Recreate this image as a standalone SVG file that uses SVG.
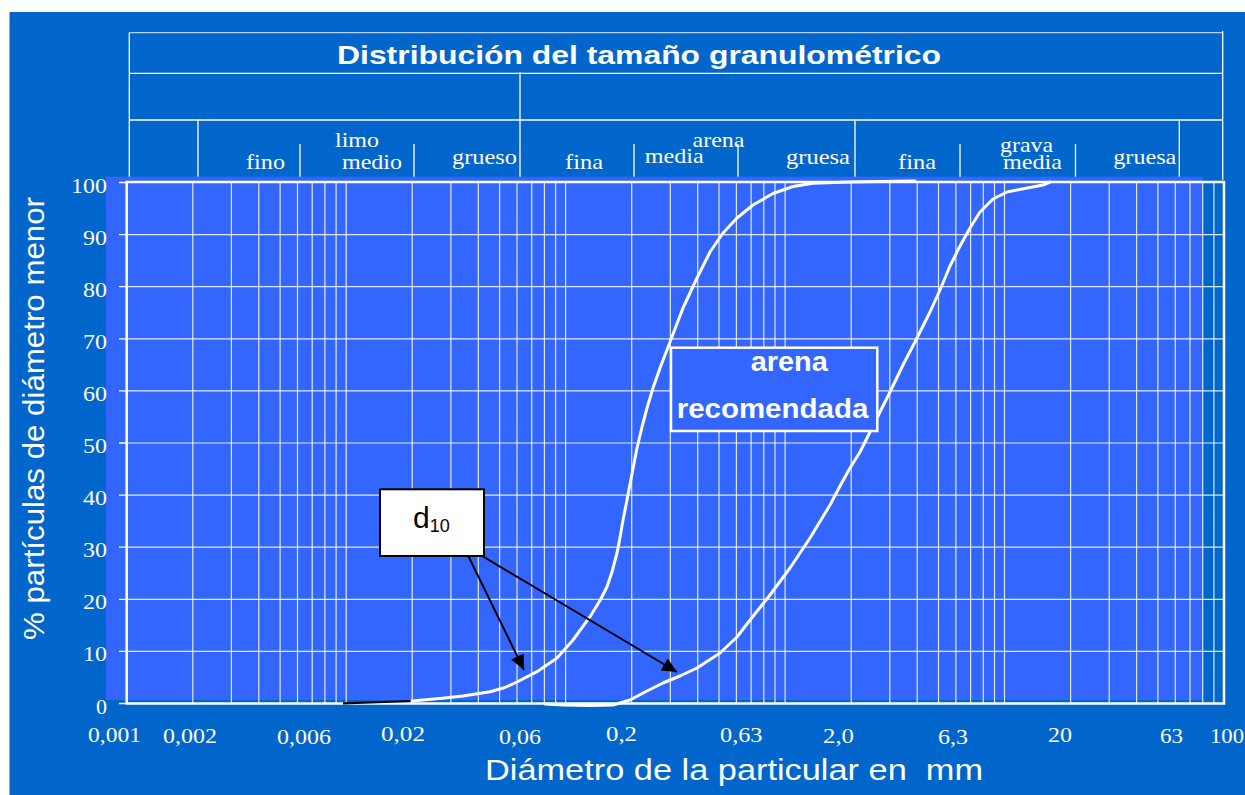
<svg xmlns="http://www.w3.org/2000/svg" width="1245" height="795" viewBox="0 0 1245 795">
<style>
.hdr{stroke:#fff;stroke-width:1.3;fill:none}
.hdrd{stroke:#b8d0f0;stroke-width:1.3;fill:none}
.grid{stroke:#fff;stroke-width:1.2;fill:none;opacity:.85}
.serif{font-family:"Liberation Serif","Times New Roman",serif;fill:#fff}
.sans{font-family:"Liberation Sans",Arial,sans-serif;fill:#fff}
.hl{font-size:22px}
.tl{font-size:21px}
.curve{stroke:#fff;stroke-width:3;fill:none;stroke-linejoin:round;stroke-linecap:round}
.arrow{stroke:#000;stroke-width:2;fill:none}
</style>
<defs>
<marker id="ah" markerUnits="userSpaceOnUse" markerWidth="16" markerHeight="14" refX="15" refY="7" orient="auto">
<path d="M0,0 L15,7 L0,14 z" fill="#000"/>
</marker>
</defs>
<rect x="0" y="0" width="1245" height="795" fill="#fff"/>
<rect x="9.5" y="12" width="1235.5" height="783" fill="#0066CC"/>

<g id="header">
<path class="hdrd" d="M129.3,32.7H1222.7"/>
<path class="hdr" d="M129.3,32.7V180M1222.7,31V180M129.3,73.3H1222.7M129.3,120H1222.7M520,72V180"/>
<path class="hdr" d="M198,120V179M855,120V180M1179.3,120V180"/>
<path class="hdr" d="M300,144V180M414,144V180M634,144V180M738,144V180M960,144V180M1075.5,144V180"/>
<text class="sans" x="337" y="64" font-size="26" font-weight="bold" textLength="604" lengthAdjust="spacingAndGlyphs">Distribución del tamaño granulométrico</text>
<text class="serif hl" x="246" y="169" textLength="39" lengthAdjust="spacingAndGlyphs">fino</text>
<text class="serif hl" x="335" y="147" textLength="44" lengthAdjust="spacingAndGlyphs">limo</text>
<text class="serif hl" x="342" y="168.5" textLength="60" lengthAdjust="spacingAndGlyphs">medio</text>
<text class="serif hl" x="452" y="163.5" textLength="65" lengthAdjust="spacingAndGlyphs">grueso</text>
<text class="serif hl" x="565" y="168.5" textLength="38" lengthAdjust="spacingAndGlyphs">fina</text>
<text class="serif hl" x="692.5" y="146.7" textLength="52" lengthAdjust="spacingAndGlyphs">arena</text>
<text class="serif hl" x="644.7" y="162.7" textLength="59" lengthAdjust="spacingAndGlyphs">media</text>
<text class="serif hl" x="786" y="164" textLength="64" lengthAdjust="spacingAndGlyphs">gruesa</text>
<text class="serif hl" x="898" y="169.3" textLength="38" lengthAdjust="spacingAndGlyphs">fina</text>
<text class="serif hl" x="1000" y="151.7" textLength="53" lengthAdjust="spacingAndGlyphs">grava</text>
<text class="serif hl" x="1003" y="169.3" textLength="59" lengthAdjust="spacingAndGlyphs">media</text>
<text class="serif hl" x="1113.3" y="164" textLength="63" lengthAdjust="spacingAndGlyphs">gruesa</text>
</g>

<g id="plot">
<rect x="106" y="176.7" width="1096.7" height="523.3" fill="#3366FF"/>
<path class="grid" d="M192.8,182V703.5M231.4,182V703.5M258.8,182V703.5M280.1,182V703.5M297.5,182V703.5M312.2,182V703.5M324.9,182V703.5M336.1,182V703.5M346.2,182V703.5M412.2,182V703.5M450.9,182V703.5M478.3,182V703.5M499.6,182V703.5M517,182V703.5M531.7,182V703.5M544.4,182V703.5M555.6,182V703.5M565.6,182V703.5M631.7,182V703.5M670.3,182V703.5M697.7,182V703.5M719,182V703.5M736.4,182V703.5M751.1,182V703.5M763.8,182V703.5M775,182V703.5M785.1,182V703.5M851.2,182V703.5M889.8,182V703.5M917.2,182V703.5M938.5,182V703.5M955.9,182V703.5M970.6,182V703.5M983.3,182V703.5M994.5,182V703.5M1004.5,182V703.5M1070.6,182V703.5M1109.2,182V703.5M1136.6,182V703.5M1157.9,182V703.5M1175.3,182V703.5M1190,182V703.5M1202.7,182V703.5M1213.9,182V703.5"/>
<path class="grid" d="M126.7,234.6H1224M126.7,286.7H1224M126.7,338.8H1224M126.7,390.9H1224M126.7,443H1224M126.7,495.1H1224M126.7,547.2H1224M126.7,599.3H1224M126.7,651.4H1224"/>
<rect x="126.7" y="182" width="1097.3" height="521.5" fill="none" stroke="#fff" stroke-width="2.5"/>
<path stroke="#fff" stroke-width="1.3" d="M119,182.5H127M119,234.6H127M119,286.7H127M119,338.8H127M119,390.9H127M119,443H127M119,495.1H127M119,547.2H127M119,599.3H127M119,651.4H127M119,703.5H127"/>
</g>

<g id="axis-labels">
<text class="serif tl" x="107" y="192.5" text-anchor="end" textLength="36" lengthAdjust="spacingAndGlyphs">100</text>
<text class="serif tl" x="107" y="244.6" text-anchor="end" textLength="24" lengthAdjust="spacingAndGlyphs">90</text>
<text class="serif tl" x="107" y="296.7" text-anchor="end" textLength="24" lengthAdjust="spacingAndGlyphs">80</text>
<text class="serif tl" x="107" y="348.8" text-anchor="end" textLength="24" lengthAdjust="spacingAndGlyphs">70</text>
<text class="serif tl" x="107" y="400.9" text-anchor="end" textLength="24" lengthAdjust="spacingAndGlyphs">60</text>
<text class="serif tl" x="107" y="453" text-anchor="end" textLength="24" lengthAdjust="spacingAndGlyphs">50</text>
<text class="serif tl" x="107" y="505.1" text-anchor="end" textLength="24" lengthAdjust="spacingAndGlyphs">40</text>
<text class="serif tl" x="107" y="557.2" text-anchor="end" textLength="24" lengthAdjust="spacingAndGlyphs">30</text>
<text class="serif tl" x="107" y="609.3" text-anchor="end" textLength="24" lengthAdjust="spacingAndGlyphs">20</text>
<text class="serif tl" x="107" y="661.4" text-anchor="end" textLength="24" lengthAdjust="spacingAndGlyphs">10</text>
<text class="serif tl" x="107" y="713.5" text-anchor="end" textLength="11" lengthAdjust="spacingAndGlyphs">0</text>

<text class="serif tl" x="88" y="742.3" textLength="53" lengthAdjust="spacingAndGlyphs">0,001</text>
<text class="serif tl" x="163" y="743" textLength="54" lengthAdjust="spacingAndGlyphs">0,002</text>
<text class="serif tl" x="277" y="744" textLength="54" lengthAdjust="spacingAndGlyphs">0,006</text>
<text class="serif tl" x="381" y="741" textLength="44" lengthAdjust="spacingAndGlyphs">0,02</text>
<text class="serif tl" x="499" y="743.5" textLength="42" lengthAdjust="spacingAndGlyphs">0,06</text>
<text class="serif tl" x="606" y="741" textLength="31" lengthAdjust="spacingAndGlyphs">0,2</text>
<text class="serif tl" x="720" y="741.7" textLength="42.5" lengthAdjust="spacingAndGlyphs">0,63</text>
<text class="serif tl" x="823" y="743.3" textLength="31" lengthAdjust="spacingAndGlyphs">2,0</text>
<text class="serif tl" x="938" y="744" textLength="30" lengthAdjust="spacingAndGlyphs">6,3</text>
<text class="serif tl" x="1048" y="741.7" textLength="24" lengthAdjust="spacingAndGlyphs">20</text>
<text class="serif tl" x="1160" y="742.7" textLength="23" lengthAdjust="spacingAndGlyphs">63</text>
<text class="serif tl" x="1210" y="742.7" textLength="34" lengthAdjust="spacingAndGlyphs">100</text>

<text class="sans" x="485" y="780" font-size="29" textLength="498" lengthAdjust="spacingAndGlyphs" style="white-space:pre" xml:space="preserve">Diámetro de la particular en  mm</text>
<text class="sans" transform="translate(43.5,418.5) rotate(-90)" x="0" y="0" font-size="30" text-anchor="middle" textLength="443" lengthAdjust="spacingAndGlyphs">% partículas de diámetro menor</text>
</g>

<g id="curves">
<path d="M343,703.3 L412,701" stroke="#000" stroke-width="2.2" fill="none"/>
<path class="curve" d="M412,701 L440,698.5 L463,696 L490,691.7 L505,687.5 L517,682 L537,671.7 L557,658 L573,640 L590,616.7 L600,600.5 L607,586.7 L612,572 L617,553 L620,537.5 L623,520 L626,505 L628.5,492 L632,474 L637,448 L642,427 L647,408 L653,388 L660,368 L670,342 L683,308 L697,278 L710,252 L723,233 L737,218 L753,205 L773,193.5 L793,186.5 L813,183.3 L850,182 L880,181.5 L915,181"/>
<path class="curve" d="M545,704 L563,705 L590,705.5 L613,705 L630,700 L645,692 L663,683 L680,676 L697,668 L720,653 L737,637 L750,620 L770,595 L790,568 L810,538 L830,505 L840,486 L850,468 L860,452 L868,436 L877,418 L890,392 L903,365 L917,338 L930,312 L940,290 L950,266 L960,246 L970,228 L980,212 L993,199 L1007,192 L1027,188 L1043,185 L1050,182"/>
</g>

<g id="node-d10">
<rect x="380" y="489.3" width="104" height="66.7" fill="#fff" stroke="#000" stroke-width="2"/>
<text font-family="Liberation Sans, Arial, sans-serif" fill="#000" x="413" y="528" font-size="30">d<tspan font-size="18" dy="3.7">10</tspan></text>
</g>

<g id="node-arena">
<rect x="671" y="347.7" width="206.3" height="83.3" fill="#3366FF" stroke="#fff" stroke-width="2.5"/>
<text class="sans" x="750.7" y="371" font-size="28" font-weight="bold" textLength="77" lengthAdjust="spacingAndGlyphs">arena</text>
<text class="sans" x="676.7" y="417.7" font-size="28" font-weight="bold" textLength="191.6" lengthAdjust="spacingAndGlyphs">recomendada</text>
</g>

<g id="connectors">
<path class="arrow" d="M468.3,556 L524,670" marker-end="url(#ah)"/>
<path class="arrow" d="M483.3,556.7 L677,672" marker-end="url(#ah)"/>
</g>
</svg>
